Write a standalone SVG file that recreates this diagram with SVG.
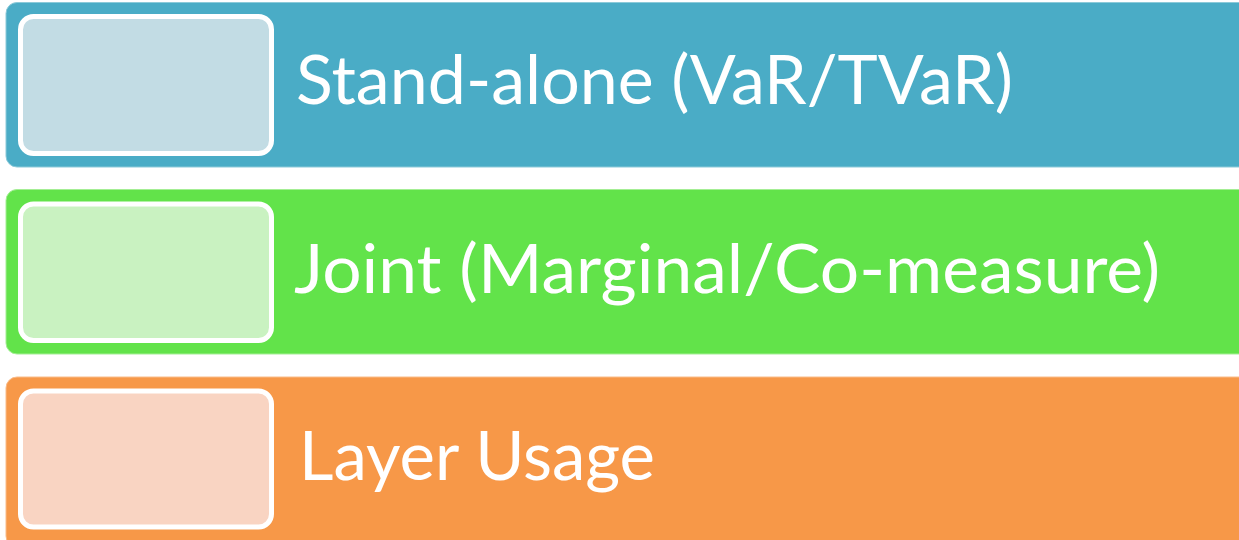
<svg xmlns="http://www.w3.org/2000/svg" width="1239" height="540" viewBox="0 0 1239 540">
  <style>
    .bar { stroke-width: 1; }
    .swatch { stroke: #ffffff; stroke-width: 5; }
    .label { font-family: "Lato", "Open Sans", "Liberation Sans", sans-serif; font-size: 67px; fill: #ffffff; }
  </style>
  <rect width="1239" height="540" fill="#ffffff"/>

  <g id="standalone">
    <rect class="bar" x="6" y="2.5" width="1250" height="164.5" rx="11" fill="#4AACC6" stroke="#8CCAD9"/>
    <rect class="swatch" x="20.5" y="16.5" width="251" height="137" rx="13" fill="#C2DCE4"/>
    <text class="label" x="296" y="104" textLength="717" lengthAdjust="spacingAndGlyphs">Stand-alone (VaR/TVaR)</text>
  </g>

  <g id="joint">
    <rect class="bar" x="6" y="189.5" width="1250" height="164.5" rx="11" fill="#62E34A" stroke="#A4EE94"/>
    <rect class="swatch" x="20.5" y="204" width="251" height="136.5" rx="13" fill="#C9F2C1"/>
    <text class="label" x="294" y="293" textLength="866" lengthAdjust="spacingAndGlyphs">Joint (Marginal/Co-measure)</text>
  </g>

  <g id="layer-usage">
    <rect class="bar" x="6" y="377" width="1250" height="170" rx="11" fill="#F79848" stroke="#F9BC8A"/>
    <rect class="swatch" x="20.5" y="391" width="251" height="136" rx="13" fill="#F9D4C2"/>
    <text class="label" x="299" y="480" textLength="356" lengthAdjust="spacingAndGlyphs">Layer Usage</text>
  </g>

  <g id="connectors"/>
</svg>
